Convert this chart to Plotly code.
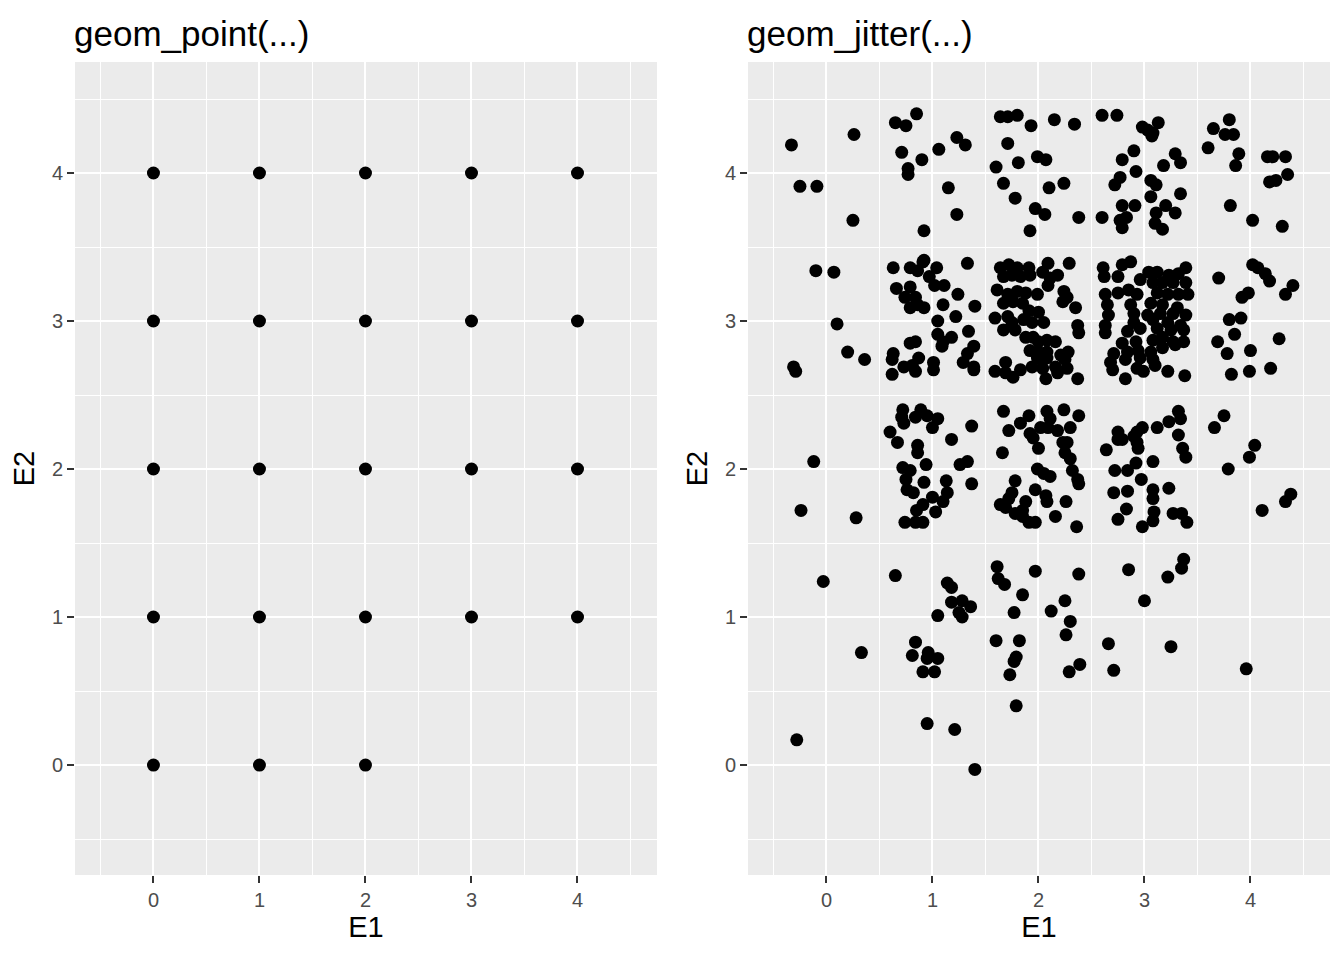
import plotly.graph_objects as go

# ---- Left panel: geom_point (distinct integer combos) ----
point_E1 = [0, 1, 2,
            0, 1, 2, 3, 4,
            0, 1, 2, 3, 4,
            0, 1, 2, 3, 4,
            0, 1, 2, 3, 4]
point_E2 = [0, 0, 0,
            1, 1, 1, 1, 1,
            2, 2, 2, 2, 2,
            3, 3, 3, 3, 3,
            4, 4, 4, 4, 4]

# ---- Right panel: geom_jitter ----
row4 = [(-0.33,4.19),(0.26,4.26),(-0.25,3.91),(-0.09,3.91),(0.25,3.68),
        (0.65,4.34),(0.75,4.32),(0.85,4.40),(0.71,4.14),(0.90,4.09),(0.77,4.03),(0.77,3.99),(1.06,4.16),(1.23,4.24),(1.31,4.19),(1.15,3.90),(1.23,3.72),(0.92,3.61),
        (1.64,4.38),(1.71,4.38),(1.80,4.39),(1.93,4.32),(1.71,4.20),(1.99,4.11),(1.81,4.07),(1.60,4.04),(1.67,3.93),(1.78,3.83),(1.97,3.76),(1.92,3.61),
        (2.15,4.36),(2.34,4.33),(2.07,4.09),(2.10,3.90),(2.24,3.93),(2.06,3.72),(2.38,3.70),
        (2.60,4.39),(2.74,4.39),(2.98,4.31),(3.03,4.29),(3.08,4.27),(3.07,4.25),(3.13,4.34),(2.90,4.15),(2.79,4.09),(2.92,4.01),(2.77,3.97),(2.72,3.92),(3.29,4.13),(3.34,4.07),(3.18,4.05),(3.06,3.95),(3.11,3.92),(3.06,3.84),(3.34,3.86),(2.79,3.78),(2.91,3.78),(3.20,3.78),(3.11,3.73),(3.29,3.73),(2.60,3.70),(2.83,3.70),(2.77,3.68),(2.79,3.63),(3.10,3.66),(3.17,3.62),
        (3.80,4.36),(3.65,4.30),(3.76,4.26),(3.84,4.26),(3.60,4.17),(3.89,4.13),(3.86,4.05),(4.16,4.11),(4.21,4.11),(4.33,4.11),(4.35,3.99),(4.18,3.94),(4.24,3.95),(3.81,3.78),(4.02,3.68),(4.30,3.64)]

row3 = [(-0.10,3.34),(0.07,3.33),(0.10,2.98),(0.20,2.79),(0.36,2.74),(-0.31,2.69),(-0.29,2.66),
        (0.63,3.36),(0.79,3.36),(0.86,3.34),(0.91,3.40),(0.92,3.41),(1.04,3.36),(0.97,3.30),(0.66,3.22),(0.79,3.23),(1.02,3.24),(1.11,3.24),(1.33,3.39),(1.24,3.18),(0.74,3.16),(0.84,3.16),(0.79,3.09),(0.86,3.11),(0.92,3.09),(1.10,3.11),(1.40,3.10),(1.22,3.03),(1.05,3.00),(1.34,2.93),(1.05,2.91),(1.18,2.89),(1.10,2.86),(1.09,2.83),(1.39,2.83),(0.79,2.85),(0.84,2.86),(0.63,2.78),(0.62,2.74),(0.62,2.64),(0.73,2.69),(0.81,2.70),(0.87,2.75),(0.84,2.66),(1.01,2.72),(1.01,2.67),(1.33,2.78),(1.29,2.72),(1.39,2.69),(1.39,2.67),
        (1.64,3.36),(1.72,3.38),(1.80,3.36),(1.91,3.36),(1.67,3.30),(1.75,3.31),(1.83,3.30),(1.92,3.31),(2.09,3.39),(2.04,3.33),(2.11,3.29),(2.18,3.31),(2.09,3.24),(2.29,3.39),(1.61,3.21),(1.71,3.18),(1.80,3.20),(1.88,3.19),(1.99,3.18),(1.67,3.12),(1.76,3.13),(1.85,3.12),(2.24,3.20),(2.27,3.16),(2.23,3.13),(2.35,3.09),(1.91,3.07),(2.00,3.06),(1.59,3.02),(1.71,3.03),(1.75,2.99),(1.86,3.01),(1.94,2.99),(2.05,2.99),(2.37,2.97),(2.38,2.92),(1.67,2.94),(1.78,2.94),(1.88,2.89),(1.95,2.89),(2.00,2.86),(2.08,2.87),(2.16,2.86),(1.92,2.80),(2.00,2.79),(2.08,2.79),(1.99,2.75),(2.08,2.75),(2.21,2.77),(2.28,2.79),(2.25,2.74),(1.69,2.72),(1.94,2.69),(2.04,2.68),(2.16,2.69),(2.27,2.68),(1.59,2.66),(1.69,2.65),(1.76,2.62),(1.83,2.67),(2.07,2.61),(2.18,2.65),(2.37,2.61),
        (2.61,3.36),(2.62,3.30),(2.79,3.38),(2.87,3.40),(2.75,3.30),(3.04,3.33),(3.12,3.33),(3.23,3.31),(3.32,3.32),(3.39,3.36),(2.96,3.28),(3.08,3.26),(3.17,3.26),(3.27,3.26),(3.39,3.26),(2.63,3.18),(2.75,3.19),(2.85,3.21),(2.93,3.18),(3.12,3.19),(3.22,3.18),(3.32,3.18),(3.41,3.18),(2.65,3.11),(2.87,3.11),(3.06,3.12),(3.17,3.11),(3.31,3.09),(2.66,3.04),(2.90,3.05),(3.03,3.04),(3.15,3.05),(3.27,3.05),(3.39,3.04),(2.63,2.97),(2.90,2.99),(3.08,3.01),(3.22,2.99),(3.34,2.97),(2.63,2.92),(2.84,2.93),(2.96,2.95),(3.12,2.95),(3.25,2.94),(3.37,2.94),(2.79,2.85),(2.92,2.86),(3.08,2.87),(3.17,2.89),(3.27,2.86),(3.37,2.86),(2.71,2.78),(2.84,2.79),(2.94,2.80),(3.06,2.79),(3.17,2.82),(3.29,2.84),(2.68,2.72),(2.82,2.74),(2.96,2.75),(3.08,2.74),(2.70,2.67),(2.93,2.68),(2.99,2.66),(3.10,2.70),(3.22,2.66),(3.38,2.63),(2.82,2.61),
        (3.70,3.29),(4.02,3.38),(4.07,3.36),(4.14,3.32),(4.18,3.27),(4.40,3.24),(4.33,3.18),(3.98,3.19),(3.92,3.16),(3.80,3.01),(3.91,3.02),(3.69,2.86),(3.85,2.91),(3.78,2.78),(4.00,2.80),(4.27,2.88),(3.82,2.64),(3.99,2.66),(4.19,2.68)]

row2 = [(-0.12,2.05),(-0.24,1.72),(0.28,1.67),
        (0.72,2.40),(0.71,2.35),(0.73,2.31),(0.89,2.40),(0.84,2.35),(0.95,2.36),(1.05,2.34),(1.00,2.28),(0.60,2.25),(0.67,2.18),(0.86,2.16),(0.86,2.11),(1.18,2.20),(1.37,2.29),(0.72,2.01),(0.79,1.99),(0.94,2.03),(1.26,2.03),(1.33,2.05),(0.75,1.93),(0.92,1.91),(0.76,1.86),(0.82,1.84),(1.13,1.92),(1.37,1.90),(1.00,1.81),(1.14,1.84),(1.10,1.78),(0.91,1.76),(0.85,1.72),(1.03,1.71),(0.74,1.64),(0.84,1.64),(0.91,1.64),
        (1.67,2.39),(1.91,2.36),(2.08,2.39),(2.11,2.34),(2.24,2.40),(2.38,2.36),(1.72,2.26),(1.83,2.31),(1.92,2.24),(1.95,2.21),(2.02,2.28),(2.09,2.28),(2.18,2.26),(2.30,2.28),(2.23,2.18),(2.27,2.18),(1.66,2.11),(2.00,2.14),(2.25,2.11),(2.30,2.07),(1.99,2.00),(2.05,1.97),(2.11,1.95),(2.32,1.99),(2.37,1.93),(2.38,1.90),(1.78,1.92),(1.75,1.84),(1.72,1.80),(1.97,1.86),(2.07,1.82),(2.08,1.78),(1.64,1.76),(1.69,1.74),(1.88,1.78),(1.85,1.72),(1.78,1.70),(1.85,1.68),(2.26,1.78),(1.91,1.64),(1.97,1.64),(2.16,1.68),(2.36,1.61),
        (3.32,2.39),(3.34,2.34),(3.23,2.32),(3.12,2.28),(2.98,2.28),(2.93,2.25),(2.90,2.22),(2.75,2.25),(2.75,2.20),(2.79,2.20),(2.93,2.18),(2.94,2.14),(3.32,2.23),(3.36,2.14),(3.39,2.08),(2.64,2.13),(2.92,2.04),(3.08,2.05),(2.72,1.99),(2.84,1.99),(2.97,1.93),(2.71,1.84),(2.84,1.85),(3.08,1.86),(3.08,1.80),(3.23,1.87),(2.83,1.73),(2.75,1.66),(3.09,1.71),(3.08,1.65),(2.98,1.61),(3.27,1.70),(3.35,1.70),(3.40,1.64),
        (3.75,2.36),(3.66,2.28),(4.04,2.16),(3.99,2.08),(3.79,2.00),(4.38,1.83),(4.33,1.78),(4.11,1.72)]

row1 = [(-0.03,1.24),(0.33,0.76),(0.65,1.28),(1.14,1.23),(1.18,1.20),(1.18,1.10),(1.28,1.11),(1.36,1.07),(1.25,1.03),(1.28,1.00),(1.05,1.01),(0.84,0.83),(0.81,0.74),(0.96,0.76),(0.95,0.72),(1.05,0.72),(0.91,0.63),(1.02,0.63),
        (1.61,1.34),(1.62,1.26),(1.68,1.22),(1.97,1.31),(1.85,1.15),(1.77,1.03),(1.60,0.84),(1.82,0.84),(1.79,0.73),(1.77,0.70),(1.73,0.61),
        (2.38,1.29),(2.25,1.11),(2.12,1.04),(2.30,0.97),(2.26,0.88),(2.39,0.68),(2.29,0.63),
        (2.85,1.32),(3.00,1.11),(2.66,0.82),(2.71,0.64),(3.37,1.39),(3.35,1.33),(3.22,1.27),(3.25,0.80),(3.96,0.65)]

row0 = [(-0.28,0.17),(0.95,0.28),(1.21,0.24),(1.40,-0.03),(1.79,0.40)]

jitter_pts = row4 + row3 + row2 + row1 + row0
jitter_E1 = [p[0] for p in jitter_pts]
jitter_E2 = [p[1] for p in jitter_pts]

tick_vals = [0, 1, 2, 3, 4]
tick_text = ["0", "1", "2", "3", "4"]

FONT = "Liberation Sans, Arial, Helvetica, sans-serif"

# page body has an 8px margin; figure is sized to fit the 1344x960 window
OFF = 8
W, H = 1336, 952


def fx(px):
    return (px - OFF) / W


def fy(py):
    return 1 - (py - OFF) / H


fig = go.Figure()
fig.add_trace(go.Scatter(x=point_E1, y=point_E2, mode="markers",
                         marker=dict(color="black", size=13),
                         xaxis="x", yaxis="y", showlegend=False))
fig.add_trace(go.Scatter(x=jitter_E1, y=jitter_E2, mode="markers",
                         marker=dict(color="black", size=13),
                         xaxis="x2", yaxis="y2", showlegend=False))

xr = [-0.74, 4.75]
yr = [-0.743, 4.75]

TICKFONT = dict(family=FONT, size=20, color="#4D4D4D")
TITLEFONT = dict(family=FONT, size=29, color="black")
MINOR = dict(dtick=0.5, tick0=0.5, showgrid=True, gridcolor="white", gridwidth=1, ticks="")


def xaxis(domain, anchor):
    return dict(domain=domain, anchor=anchor, range=xr, tickvals=tick_vals, ticktext=tick_text,
                showgrid=True, gridcolor="white", gridwidth=2, zeroline=False, showline=False,
                ticks="outside", ticklen=7, tickwidth=2, tickcolor="#333333",
                tickfont=TICKFONT, minor=MINOR,
                title=dict(text="E1", font=TITLEFONT, standoff=5))


def yaxis(domain, anchor):
    return dict(domain=domain, anchor=anchor, range=yr, tickvals=tick_vals, ticktext=tick_text,
                showgrid=True, gridcolor="white", gridwidth=2, zeroline=False, showline=False,
                ticks="outside", ticklen=7, tickwidth=2, tickcolor="#333333",
                tickfont=TICKFONT, minor=MINOR,
                title=dict(text="E2", font=TITLEFONT, standoff=8))


ydom = [fy(875), fy(62)]
fig.update_layout(
    width=W, height=H,
    margin=dict(l=0, r=0, t=0, b=0),
    paper_bgcolor="white", plot_bgcolor="#EBEBEB",
    font=dict(family=FONT),
    xaxis=xaxis([fx(75), fx(657)], "y"),
    yaxis=yaxis(ydom, "x"),
    xaxis2=xaxis([fx(748), fx(1330)], "y2"),
    yaxis2=yaxis(ydom, "x2"),
    annotations=[
        dict(text="geom_point(...)", x=fx(75), y=fy(33), xref="paper", yref="paper",
             xanchor="left", yanchor="middle", showarrow=False, xshift=-3,
             font=dict(family=FONT, size=35, color="black")),
        dict(text="geom_jitter(...)", x=fx(748), y=fy(33), xref="paper", yref="paper",
             xanchor="left", yanchor="middle", showarrow=False, xshift=-3,
             font=dict(family=FONT, size=35, color="black")),
    ],
)

fig.write_html("out.html")
